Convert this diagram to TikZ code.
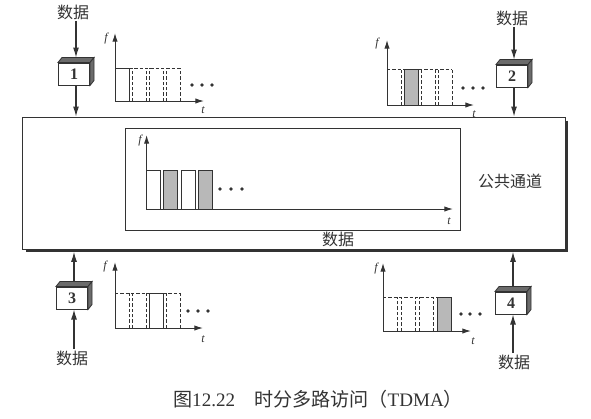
\documentclass[tikz,border=0pt]{standalone}
\usepackage{fontspec}
\setmainfont{Liberation Serif}
\newfontfamily\cjk{Noto Sans CJK SC}
\usetikzlibrary{arrows.meta}
\definecolor{ink}{gray}{0.2}
\definecolor{slotgray}{gray}{0.72}
\definecolor{facegray}{gray}{0.42}

% top and right faces of a station block, plus the point where feeds meet its top
\newcommand\boxfaces[1]{%
  \path[face] (#1.north west) -- ++(4,-5) -- ([shift={(4,-5)}]#1.north east) -- (#1.north east) -- cycle;
  \path[face] (#1.north east) -- ++(4,-5) -- ([shift={(4,-5)}]#1.south east) -- (#1.south east) -- cycle;
  \coordinate (#1top) at ([shift={(2,-5)}]#1.north);
}

\begin{document}
\begin{tikzpicture}[x=0.75pt,y=-0.75pt,
  line/.style={draw=ink,line width=0.75pt},
  arr/.style={draw=ink,line width=0.8pt,-{Latex[length=7.5pt,width=4.5pt]}},
  axisarr/.style={draw=ink,line width=0.75pt,-{Latex[length=6.5pt,width=4pt]}},
  dashline/.style={draw=ink,line width=0.6pt,dash pattern=on 2.4pt off 1.6pt},
  front/.style={draw=ink,line width=0.75pt,fill=white,minimum width=23.25pt,minimum height=16.5pt,inner sep=0pt,text=ink,font=\fontsize{12}{12}\selectfont\bfseries},
  face/.style={draw=ink,line width=0.6pt,fill=facegray},
  zh/.style={font=\fontsize{12}{14}\cjk,text=ink,inner sep=1pt},
  axlabel/.style={font=\fontsize{9}{10}\selectfont\itshape,text=ink,inner sep=0pt},
  dotmark/.style={fill=ink},
]
\useasboundingbox (0,0) rectangle (591,418);

% ---- shared channel ----
\node[line,fill=white,minimum width=407.25pt,minimum height=99pt,inner sep=0pt] (big) at (293.5,183) {};
\draw[ink,line width=2pt] ([shift={(1.3,4)}]big.north east) -- ([shift={(1.3,1.3)}]big.south east) -- ([shift={(4,1.3)}]big.south west);
\coordinate (bigbot) at ([yshift=-1.8pt]big.south);
\node[line,minimum width=250.95pt,minimum height=76.5pt,inner sep=0pt] (chan) at (292.7,179) {};
\node[zh] (chanlabel) at (510,181) {公共通道};
\node[zh] (chandata) at (338,239) {数据};

% combined time slots
\draw[line,fill=white] (146.6,209) rectangle (160.6,170);
\draw[line,fill=slotgray] (163.9,209) rectangle (177.9,170);
\draw[line,fill=white] (181.2,209) rectangle (195.2,170);
\draw[line,fill=slotgray] (198.5,209) rectangle (212.5,170);
\draw[axisarr] (146.6,209) -- (146.6,135);
\draw[axisarr] (146.6,209) -- (453,209);
\node[axlabel] at (140,141) {f};
\node[axlabel] at (449,221) {t};
\foreach \x in {220,231,242} \fill[dotmark] (\x,189) circle[radius=1.4pt];

% ---- station 1 slots ----
\draw[dashline] (129,68) -- (180,68);
\draw[dashline] (132,101)--(132,68) (146,101)--(146,68) (149,101)--(149,68) (163,101)--(163,68) (166,101)--(166,68) (180,101)--(180,68);
\draw[line,fill=white] (115,101) rectangle (129,68);
\draw[axisarr] (115,101) -- (115,33);
\draw[axisarr] (115,101) -- (204,101);
\node[axlabel] at (106,39) {f};
\node[axlabel] at (203,110) {t};
\foreach \x in {192,202,212} \fill[dotmark] (\x,85) circle[radius=1.4pt];

% ---- station 2 slots ----
\draw[dashline] (387,69) -- (452,69);
\draw[dashline] (401,105)--(401,69) (421,105)--(421,69) (435,105)--(435,69) (438,105)--(438,69) (452,105)--(452,69);
\draw[line,fill=slotgray] (404,105) rectangle (418,69);
\draw[axisarr] (387,105) -- (387,40);
\draw[axisarr] (387,105) -- (474,105);
\node[axlabel] at (377,44) {f};
\node[axlabel] at (474,114) {t};
\foreach \x in {463,473,483} \fill[dotmark] (\x,88) circle[radius=1.4pt];

% ---- station 3 slots ----
\draw[dashline] (115,293) -- (180,293);
\draw[dashline] (129,328)--(129,293) (132,328)--(132,293) (146,328)--(146,293) (166,328)--(166,293) (180,328)--(180,293);
\draw[line,fill=white] (149,328) rectangle (163,293);
\draw[axisarr] (115,328) -- (115,262);
\draw[axisarr] (115,328) -- (203,328);
\node[axlabel] at (105,267) {f};
\node[axlabel] at (203,339) {t};
\foreach \x in {188,198,208} \fill[dotmark] (\x,311) circle[radius=1.4pt];

% ---- station 4 slots ----
\draw[dashline] (383,297) -- (437,297);
\draw[dashline] (397,331)--(397,297) (401,331)--(401,297) (415,331)--(415,297) (419,331)--(419,297) (433,331)--(433,297);
\draw[line,fill=slotgray] (437,331) rectangle (451,297);
\draw[axisarr] (383,331) -- (383,263);
\draw[axisarr] (383,331) -- (471,331);
\node[axlabel] at (376,269) {f};
\node[axlabel] at (473,341) {t};
\foreach \x in {461,470,480} \fill[dotmark] (\x,314) circle[radius=1.4pt];

% ---- stations ----
\node[front] (s1) at (74,74) {1};
\boxfaces{s1}
\node[front] (s2) at (512,76) {2};
\boxfaces{s2}
\node[front] (s3) at (72,298) {3};
\boxfaces{s3}
\node[front] (s4) at (511,303) {4};
\boxfaces{s4}

\node[zh] (d1) at (73,12) {数据};
\node[zh] (d2) at (512,18) {数据};
\node[zh] (d3) at (72,358) {数据};
\node[zh] (d4) at (514,362) {数据};

% ---- feeds ----
\draw[arr] (s1top |- d1.south) -- (s1top);
\draw[arr] (s1top |- s1.south) -- (s1top |- big.north);
\draw[arr] (s2top |- d2.south) -- (s2top);
\draw[arr] (s2top |- s2.south) -- (s2top |- big.north);
\draw[arr] (s3top) -- (s3top |- bigbot);
\draw[arr] (s3top |- d3.north) -- (s3top |- s3.south);
\draw[arr] (s4top) -- (s4top |- bigbot);
\draw[arr] (s4top |- d4.north) -- (s4top |- s4.south);

% ---- caption ----
\node[font=\fontsize{14.3}{16}\selectfont,text=ink,inner sep=0pt] (cap) at (318,399)
  {{\cjk 图}12.22\hspace{1em}{\cjk 时分多路访问（}TDMA{\cjk ）}};
\end{tikzpicture}
\end{document}
